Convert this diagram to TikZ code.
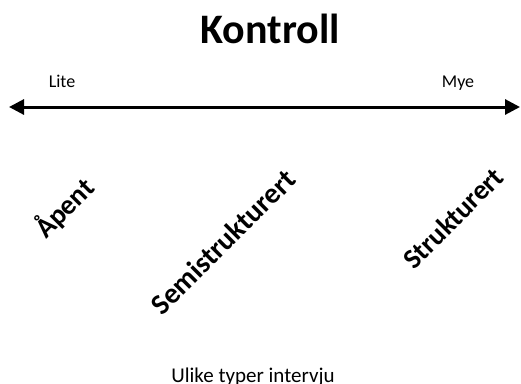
\documentclass[tikz,border=0pt]{standalone}
\usepackage{fontspec}
\setmainfont{Carlito}
\usetikzlibrary{arrows.meta}
\begin{document}
\begin{tikzpicture}[x=1pt,y=-1pt,
  title/.style={font=\fontsize{42}{46}\selectfont\bfseries, anchor=base},
  endlabel/.style={font=\fontsize{18}{20}\selectfont, anchor=base},
  kind/.style={font=\fontsize{28}{30}\selectfont\bfseries, rotate=45},
  caption/.style={font=\fontsize{21}{24}\selectfont, anchor=base},
  axisline/.style={line width=3pt, {Triangle[length=15pt,width=15pt]}-{Triangle[length=15pt,width=15pt]}}]
  \useasboundingbox (0,0) rectangle (521,383);
  \node[title] (kontroll) at (270,43) {Kontroll};
  \node[endlabel] (lite) at (62,87) {Lite};
  \node[endlabel] (mye) at (458,87) {Mye};
  \coordinate (venstre) at (9,107);
  \coordinate (hoyre) at (520,107);
  \draw[axisline] (venstre) -- (hoyre);
  \node[kind] (apent) at (64,208) {Åpent};
  \node[kind, font=\fontsize{29}{32}\selectfont\bfseries] (semi) at (223,242) {Semistrukturert};
  \node[kind] (strukt) at (453,218) {Strukturert};
  \node[caption] (typer) at (253,382) {Ulike typer intervju};
\end{tikzpicture}
\end{document}
